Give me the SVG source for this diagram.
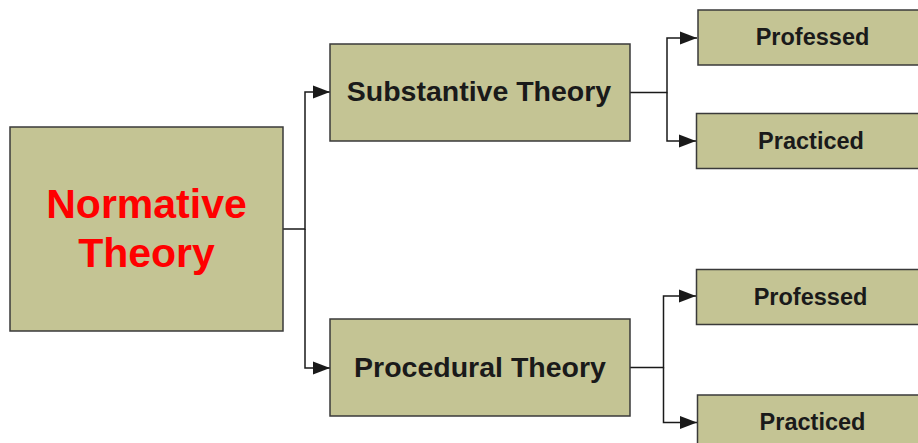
<svg xmlns="http://www.w3.org/2000/svg" width="918" height="443" viewBox="0 0 918 443">
<style>
.box{fill:#c4c494;stroke:#3a3a3a;stroke-width:1.5}
.lbl{font-family:"Liberation Sans",Arial,sans-serif;font-weight:bold;fill:#1a1a1a;text-anchor:middle}
.conn{fill:none;stroke:#1a1a1a;stroke-width:1.5}
</style>
<defs>
<marker id="arr" markerWidth="17" markerHeight="14" refX="17" refY="7" orient="auto" markerUnits="userSpaceOnUse">
<path d="M0,0.5 L17,7 L0,13.5 Z" fill="#1a1a1a"/>
</marker>
</defs>
<rect width="918" height="443" fill="#fff"/>
<g id="connectors">
<path class="conn" d="M283,229 H305 V92 H330" marker-end="url(#arr)"/>
<path class="conn" d="M305,229 V368 H330" marker-end="url(#arr)"/>
<path class="conn" d="M630,92.5 H667 V38 H697" marker-end="url(#arr)"/>
<path class="conn" d="M667,92.5 V141 H696" marker-end="url(#arr)"/>
<path class="conn" d="M630,367.5 H663.5 V296 H696" marker-end="url(#arr)"/>
<path class="conn" d="M663.5,367.5 V422.5 H697" marker-end="url(#arr)"/>
</g>
<g id="normative">
<rect class="box" x="10" y="127" width="273" height="204"/>
<text class="lbl" x="146.5" y="218" font-size="41" style="fill:#ff0000">Normative</text>
<text class="lbl" x="146.5" y="267" font-size="41" style="fill:#ff0000">Theory</text>
</g>
<g id="substantive">
<rect class="box" x="330" y="44" width="300" height="97"/>
<text class="lbl" x="479" y="101" font-size="28.5">Substantive Theory</text>
</g>
<g id="procedural">
<rect class="box" x="330" y="319" width="300" height="97"/>
<text class="lbl" x="480" y="377" font-size="28.5">Procedural Theory</text>
</g>
<g id="professed1">
<rect class="box" x="698" y="10" width="240" height="55"/>
<text class="lbl" x="812.5" y="44.5" font-size="23.5">Professed</text>
</g>
<g id="practiced1">
<rect class="box" x="696.5" y="113.5" width="240" height="55"/>
<text class="lbl" x="811" y="149" font-size="23.5">Practiced</text>
</g>
<g id="professed2">
<rect class="box" x="696.5" y="269.5" width="240" height="55"/>
<text class="lbl" x="810.5" y="305" font-size="23.5">Professed</text>
</g>
<g id="practiced2">
<rect class="box" x="697.5" y="395" width="240" height="60"/>
<text class="lbl" x="812.5" y="430" font-size="23.5">Practiced</text>
</g>
</svg>
